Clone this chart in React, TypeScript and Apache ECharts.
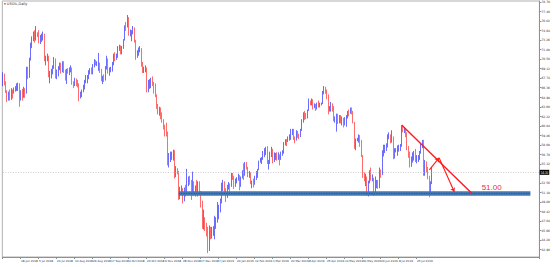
import React, { useEffect, useRef } from 'react';
import * as echarts from 'echarts';

// [open, close, low, high] per daily bar, 30 May 2018 .. 31 Dec 2018
const ohlc2018: number[][] = [
  [66.9,68.2,66.6,68.6],[68.2,67.0,66.7,68.4],[67.0,65.8,65.6,67.3],
  [65.8,64.8,64.3,66.0],[64.8,65.5,64.5,65.8],[65.5,64.7,64.5,66.1],[64.7,66.0,64.6,66.3],[66.0,65.8,64.8,66.1],
  [65.8,66.1,65.5,66.4],[66.1,66.4,65.8,66.6],[66.4,66.7,65.9,67.0],[66.7,66.9,65.9,67.1],[66.9,65.1,63.6,67.0],
  [65.1,65.9,64.5,66.0],[65.9,65.1,64.5,66.2],[65.1,66.2,64.9,66.5],[66.2,65.6,64.9,66.3],[65.6,69.2,65.5,69.4],
  [69.2,68.1,67.6,69.4],[68.1,70.6,67.8,70.7],[70.6,72.8,70.3,72.9],[72.8,73.5,72.1,73.8],[73.5,74.2,73.1,74.5],
  [74.2,74.0,72.9,74.7],[74.0,74.2,73.2,75.3],[74.2,73.9,73.7,74.4],[73.9,73.0,72.8,74.7],[73.0,73.8,72.7,74.0],
  [73.8,73.9,73.0,74.2],[73.9,74.1,73.2,74.5],[74.1,70.4,70.2,74.2],[70.4,70.4,69.6,71.0],[70.4,71.0,70.2,71.3],
  [71.0,68.1,67.9,71.0],[68.1,68.1,67.0,68.8],[68.1,68.8,67.7,69.1],[68.8,69.5,68.3,69.6],[69.5,70.5,69.1,70.8],
  [70.5,67.9,67.7,70.6],[67.9,68.5,67.6,69.0],[68.5,69.3,68.0,69.5],[69.3,69.6,68.9,70.0],[69.6,68.7,68.4,70.0],
  [68.7,70.1,68.6,70.2],[70.1,68.8,68.5,70.2],[68.8,67.7,67.4,69.0],[67.7,69.0,66.9,69.1],[69.0,68.5,68.4,69.2],
  [68.5,69.0,68.2,69.3],[69.0,69.2,68.6,69.6],[69.2,67.0,66.8,69.3],[67.0,66.8,66.3,67.3],[66.8,67.6,66.6,67.8],
  [67.6,67.2,66.6,67.7],[67.2,67.1,66.4,67.5],[67.1,65.0,64.4,67.0],[65.0,65.5,64.8,65.8],[65.5,65.9,65.0,66.1],
  [65.9,66.5,65.7,66.8],[66.5,67.3,66.1,67.5],[67.3,67.9,67.0,68.2],[67.9,67.9,67.0,68.2],[67.9,68.7,67.6,68.9],
  [68.7,68.9,68.3,69.2],[68.9,68.5,68.3,69.3],[68.5,69.5,68.3,69.8],[69.5,70.3,69.3,70.5],[70.3,69.8,69.6,70.4],
  [69.8,69.9,69.5,70.2],[69.9,69.9,68.8,71.4],[69.9,68.7,68.5,70.0],[68.7,67.8,67.3,69.1],[67.8,67.8,66.9,68.1],
  [67.8,67.6,67.2,68.3],[67.6,69.3,67.4,69.5],[69.3,70.4,69.0,71.0],[70.4,68.6,68.4,70.6],[68.6,69.0,68.1,69.3],
  [69.0,69.0,68.6,69.4],[69.0,69.9,68.7,70.1],[69.9,71.1,69.6,71.3],[71.1,70.8,70.2,71.5],[70.8,70.8,70.4,71.3],
  [70.8,72.1,70.7,72.4],[72.1,72.3,71.7,72.6],[72.3,71.6,71.2,72.5],[71.6,72.1,71.2,72.4],[72.1,73.3,72.0,73.4],
  [73.3,75.3,73.2,75.4],[75.3,75.2,74.6,75.9],[75.2,76.4,75.1,76.9],[76.4,74.3,73.9,76.6],[74.3,74.3,73.8,74.8],
  [74.3,74.3,73.1,74.7],[74.3,75.0,74.1,75.3],[75.0,73.2,72.9,75.1],[73.2,71.0,70.4,73.3],[71.0,71.3,70.7,71.8],
  [71.3,71.8,71.0,72.2],[71.8,72.0,71.5,72.4],[72.0,69.8,69.4,72.1],[69.8,68.7,68.5,70.1],[68.7,69.1,68.5,69.4],
  [69.1,69.2,68.6,69.6],[69.2,66.4,65.7,69.3],[66.4,66.8,65.7,67.5],[66.8,67.3,66.2,67.6],[67.3,67.6,66.3,67.8],
  [67.6,67.0,66.6,68.0],[67.0,66.2,65.5,67.2],[66.2,65.3,65.0,67.0],[65.3,63.7,63.3,65.4],[63.7,63.1,62.5,64.0],
  [63.1,63.1,62.3,63.6],[63.1,62.2,61.8,63.5],[62.2,61.7,61.3,62.8],[61.7,60.7,60.3,61.8],[60.7,60.2,59.3,61.0],
  [60.2,59.9,59.3,61.3],[59.9,55.7,55.1,60.0],[55.7,56.3,54.8,56.9],[56.3,56.5,55.6,57.1],[56.5,56.5,55.9,57.1],
  [56.5,57.2,55.8,57.4],[57.2,53.5,53.2,57.3],[53.5,54.6,53.4,55.0],[54.6,54.2,53.8,54.7],[54.2,50.4,50.1,54.3],
  [50.4,51.6,50.2,52.0],[51.6,51.6,50.9,52.2],[51.6,50.3,49.6,51.8],[50.3,51.5,49.9,51.9],[51.5,50.9,50.6,52.3],
  [50.9,53.0,50.9,54.6],[53.0,53.3,52.1,53.5],[53.3,52.9,52.3,53.6],[52.9,51.5,50.1,53.0],[51.5,52.6,50.8,54.2],
  [52.6,51.0,50.7,52.8],[51.0,51.7,50.6,52.2],[51.7,51.2,50.9,53.0],[51.2,52.6,50.6,52.8],[52.6,51.2,50.9,52.8],
  [51.2,49.9,49.0,51.4],[49.9,46.3,45.9,50.0],[46.3,47.2,45.8,48.7],[47.2,45.9,45.6,47.6],[45.9,45.6,44.8,46.8],
  [45.6,42.6,42.4,46.2],[42.6,46.2,42.7,46.4],[46.2,44.6,44.4,46.2],[44.6,45.4,44.5,46.2],
  [45.4,45.4,44.9,46.3],
];

// 2 Jan 2019 .. 9 Aug 2019
const ohlc2019: number[][] = [
  [45.4,46.6,44.4,47.8],[46.6,47.1,45.9,47.6],[47.1,48.0,46.8,49.8],
  [48.0,48.5,47.3,49.4],[48.5,49.8,48.3,50.3],[49.8,52.4,49.6,52.6],[52.4,52.6,51.4,53.0],[52.6,51.6,51.3,52.8],
  [51.6,50.5,49.8,51.8],[50.5,52.1,50.4,52.3],[52.1,52.3,51.6,52.7],[52.3,52.1,51.3,52.5],[52.1,53.8,52.0,54.0],
  [53.8,53.5,53.0,54.0],[53.5,52.6,51.7,53.6],[52.6,52.6,52.0,53.2],[52.6,53.2,52.5,53.4],[53.2,53.7,52.9,53.9],
  [53.7,52.0,51.5,53.7],[52.0,53.3,52.0,53.5],[53.3,54.3,53.2,54.4],[54.3,53.8,53.0,55.4],[53.8,55.3,53.6,55.6],
  [55.3,54.6,54.5,55.6],[54.6,53.7,53.4,54.9],[53.7,54.0,53.3,54.3],[54.0,52.7,52.4,54.1],[52.7,52.7,51.8,52.9],
  [52.7,52.4,51.9,53.2],[52.4,53.1,52.3,53.6],[53.1,53.9,53.0,54.3],[53.9,54.4,53.3,54.6],[54.4,55.6,54.4,55.8],
  [55.6,55.9,55.5,56.2],[55.9,56.1,55.3,56.3],[56.1,56.9,55.9,57.2],[56.9,57.0,56.3,57.6],[57.0,57.3,56.6,57.8],
  [57.3,55.5,55.3,57.9],[55.5,55.5,54.5,55.9],[55.5,57.0,55.3,57.1],[57.0,57.2,56.3,57.8],[57.2,55.8,55.4,57.5],
  [55.8,56.6,55.6,57.0],[56.6,56.6,55.9,56.9],[56.6,56.2,55.8,57.0],[56.2,56.7,55.9,57.0],[56.7,56.1,55.1,56.7],
  [56.1,56.8,55.9,57.1],[56.8,56.9,56.5,57.3],[56.9,58.3,56.8,58.5],[58.3,58.6,58.0,58.9],[58.6,58.5,57.9,58.9],
  [58.5,59.1,58.5,59.3],[59.1,59.1,58.7,59.6],[59.1,59.9,58.8,60.4],[59.9,60.0,59.5,60.4],[60.0,59.1,58.8,60.4],
  [59.1,58.9,58.3,59.3],[58.9,60.0,58.7,60.2],[60.0,59.4,59.1,60.1],[59.4,59.3,58.9,59.7],[59.3,60.2,59.2,60.4],
  [60.2,61.6,60.1,61.8],[61.6,62.6,61.3,62.8],[62.6,62.5,61.7,63.0],[62.5,62.1,61.8,62.7],[62.1,63.1,61.9,63.2],
  [63.1,64.4,63.0,64.8],[64.4,64.0,63.8,64.5],[64.0,64.6,63.8,64.8],[64.6,63.6,63.2,64.7],[63.6,63.9,63.4,64.1],
  [63.9,63.4,63.0,64.0],[63.4,64.1,63.2,64.2],[64.1,63.8,63.5,64.5],[63.8,64.0,63.5,64.2],[64.0,64.0,63.8,64.2],
  [64.0,65.7,64.0,65.9],[65.7,66.3,65.4,66.6],[66.3,65.9,65.5,66.5],[65.9,65.2,64.7,66.1],[65.2,63.3,62.5,65.4],
  [63.3,63.5,62.9,63.7],[63.5,63.9,62.9,64.3],[63.9,63.6,62.9,64.1],[63.6,61.8,61.5,63.7],[61.8,62.0,61.3,62.2],
  [62.0,62.3,60.0,62.6],[62.3,61.4,61.1,62.6],[61.4,62.1,61.2,62.4],[62.1,61.7,61.2,62.4],[61.7,61.7,60.9,62.2],
  [61.7,61.1,60.6,62.0],[61.1,61.8,60.9,62.1],[61.8,62.0,60.7,62.4],[62.0,62.9,61.9,63.0],[62.9,62.8,62.2,63.2],
  [62.8,63.1,62.6,63.5],[63.1,63.0,62.5,63.5],[63.0,61.4,61.2,63.0],[61.4,57.9,57.5,61.4],[57.9,58.7,57.3,59.0],
  [58.7,58.8,58.6,59.1],[58.8,59.1,58.4,59.6],[59.1,58.8,57.8,59.5],[58.8,56.6,56.3,58.8],[56.6,53.5,53.3,56.6],
  [53.5,53.3,52.8,54.1],[53.3,53.5,52.1,53.9],[53.5,51.7,50.7,53.5],[51.7,52.6,50.6,52.9],[52.6,54.0,52.5,54.4],
  [54.0,53.3,52.9,54.8],[53.3,53.3,52.8,53.8],[53.3,51.1,50.7,53.3],[51.1,52.3,51.0,53.5],[52.3,52.5,51.8,53.0],
  [52.5,52.0,51.7,53.0],[52.0,53.9,51.8,54.8],[53.9,53.8,53.3,54.5],[53.8,57.1,53.7,57.3],[57.1,57.4,56.4,58.1],
  [57.4,57.9,56.9,58.1],[57.9,57.9,57.2,58.3],[57.9,59.4,57.7,59.6],[59.4,59.4,58.9,59.9],[59.4,58.5,58.3,59.6],
  [58.5,59.1,58.4,60.2],[59.1,56.3,56.0,59.3],[56.3,57.3,56.1,57.6],[57.3,57.3,57.0,57.6],[57.3,57.5,56.5,58.0],
  [57.5,57.7,57.1,58.1],[57.7,57.9,57.2,58.2],[57.9,60.5,57.8,60.9],[60.5,60.2,59.9,60.9],[60.2,60.2,59.8,60.6],
  [60.2,59.6,59.2,60.5],[59.6,57.6,57.3,59.9],[57.6,56.8,56.2,57.9],[56.8,55.3,54.8,57.1],[55.3,55.6,54.9,56.4],
  [55.6,56.2,55.5,57.0],[56.2,57.0,55.8,57.2],[57.0,55.9,55.6,57.5],[55.9,56.1,55.4,56.6],[56.1,56.2,55.6,56.6],
  [56.2,56.9,55.9,57.2],[56.9,58.1,56.8,58.3],[58.1,58.6,57.6,58.8],[58.6,54.0,53.6,58.8],[54.0,55.7,53.6,55.9],
  [55.7,54.7,54.1,55.7],[54.7,53.6,53.1,54.9],[53.6,51.1,50.5,53.6],[51.1,52.6,51.0,52.8],[52.6,54.1,52.4,54.9],
];

// date labels shown every LABEL_STEP bars
const xLabels = [
  '30 May 2018', '18 Jun 2018', '5 Jul 2018', '24 Jul 2018', '10 Aug 2018', '29 Aug 2018',
  '17 Sep 2018', '4 Oct 2018', '23 Oct 2018', '9 Nov 2018', '28 Nov 2018', '17 Dec 2018',
  '7 Jan 2019', '24 Jan 2019', '12 Feb 2019', '1 Mar 2019', '20 Mar 2019', '8 Apr 2019',
  '25 Apr 2019', '14 May 2019', '31 May 2019', '19 Jun 2019', '8 Jul 2019', '25 Jul 2019',
];
const LABEL_STEP = 13;

const yTicks = [
  42.90, 44.28, 45.66, 47.04, 48.42, 49.80, 51.18, 52.56, 55.32, 56.70, 58.08, 59.46,
  60.84, 62.22, 63.60, 64.98, 66.36, 67.74, 69.12, 70.50, 71.88, 73.26, 74.64, 76.02, 77.40, 78.78,
];

const supportLevel = 51.0;
const supportLabel = '51.00';
const lastPrice = 54.1;
const TOTAL_SLOTS = 388; // bars + empty right-hand shift area

export default function App() {
  const ref = useRef<HTMLDivElement>(null);
  useEffect(() => {
    if (!ref.current) return;
    const chart = echarts.init(ref.current, undefined, { renderer: 'svg' });
    const bars = [...ohlc2018, ...ohlc2019];
    const categories = Array.from({ length: TOTAL_SLOTS }, (_, i) => String(i));
    const labelIdx = (i: number) => i % LABEL_STEP === 0 && i / LABEL_STEP < xLabels.length;
    const red = '#ff1a1a';

    chart.setOption({
      animation: false,
      backgroundColor: '#ffffff',
      grid: { left: 1, right: 12, top: 1, bottom: 10, show: true, borderColor: '#b0b0b0', borderWidth: 1 },
      xAxis: {
        type: 'category',
        data: categories,
        boundaryGap: true,
        axisLine: { lineStyle: { color: '#909090', width: 1 } },
        axisTick: { show: true, interval: (i: number) => labelIdx(i), length: 2, lineStyle: { color: '#909090' } },
        axisLabel: {
          interval: (i: number) => labelIdx(i),
          formatter: (_v: string, i: number) => (labelIdx(i) ? xLabels[i / LABEL_STEP] : ''),
          fontSize: 2.8,
          color: '#333',
          align: 'left',
          margin: 2.5,
          fontFamily: 'DejaVu Sans',
          hideOverlap: false,
        },
        splitLine: { show: false },
      },
      yAxis: {
        type: 'value',
        position: 'right',
        min: 41.83,
        max: 78.93,
        scale: true,
        axisLine: { show: true, lineStyle: { color: '#909090' } },
        axisTick: { show: true, length: 2, customValues: yTicks, lineStyle: { color: '#909090' } },
        axisLabel: {
          customValues: yTicks,
          formatter: (v: number) => v.toFixed(2),
          fontSize: 3,
          color: '#333',
          margin: 2,
          fontFamily: 'DejaVu Sans',
        },
        splitLine: { show: false },
      },
      graphic: [
        { type: 'text', left: 4, top: 2, style: { text: '\u25BE USOIL,Daily', fontSize: 3.5, fill: '#333', fontFamily: 'DejaVu Sans' } },
      ],
      series: [
        {
          type: 'candlestick',
          data: bars,
          barWidth: 1.2,
          itemStyle: {
            color: '#0000ff',
            color0: '#ff0000',
            borderColor: 'rgba(50,50,255,0.8)',
            borderColor0: 'rgba(255,50,50,0.8)',
            borderWidth: 0.9,
          },
          markLine: {
            silent: true,
            symbol: ['none', 'none'],
            label: { show: false },
            data: [
              [
                { coord: ['0', lastPrice], lineStyle: { color: '#c0c0c0', width: 0.8, type: [1, 1.5] } },
                { coord: [String(TOTAL_SLOTS - 1), lastPrice],
                  label: { show: true, position: 'end', formatter: lastPrice.toFixed(2), backgroundColor: '#000', color: '#fff', fontSize: 3, padding: [1, 1], distance: 1 } },
              ],
              [
                { coord: ['127', supportLevel], lineStyle: { color: '#4178b4', width: 4.5, type: 'solid' } },
                { coord: ['381', supportLevel] },
              ],
              [
                { coord: ['127', supportLevel], lineStyle: { color: '#1d3a60', width: 0.6, type: [1, 1.5] } },
                { coord: ['381', supportLevel] },
              ],
              [
                { coord: ['288', 60.95], lineStyle: { color: red, width: 1.4, type: 'solid' } },
                { coord: ['339', supportLevel] },
              ],
              [
                { coord: ['308', 54.45], lineStyle: { color: red, width: 1.1, type: 'solid' } },
                { coord: ['315', 56.2], symbol: 'arrow', symbolSize: 4 },
              ],
              [
                { coord: ['315', 56.2], lineStyle: { color: red, width: 1.1, type: 'solid' } },
                { coord: ['326', 51.3], symbol: 'arrow', symbolSize: 4 },
              ],
            ],
          },
          markPoint: {
            silent: true,
            symbolSize: 0,
            data: [
              {
                coord: ['353', 51.95],
                label: { show: true, formatter: supportLabel, color: '#ee3030', fontSize: 8, fontFamily: 'Liberation Sans', position: 'inside' },
              },
            ],
          },
        },
      ],
    });
    return () => chart.dispose();
  }, []);

  return <div ref={ref} style={{ position: 'fixed', left: 0, top: 0, width: 553, height: 267, background: '#fff' }} />;
}
